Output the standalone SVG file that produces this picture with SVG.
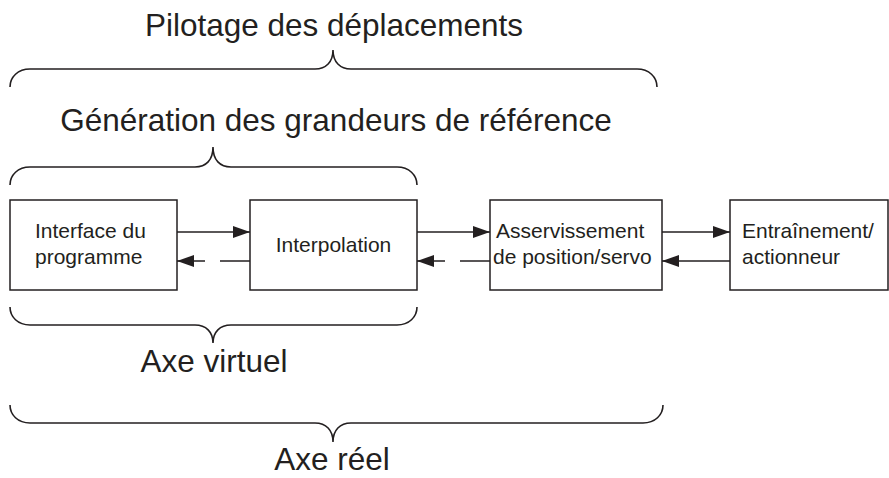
<svg xmlns="http://www.w3.org/2000/svg" width="889" height="478" viewBox="0 0 889 478">
  <style>
    .box { fill: #ffffff; stroke: #231f20; stroke-width: 1.5; }
    .brace { fill: none; stroke: #231f20; stroke-width: 1.6; }
    .line { fill: none; stroke: #231f20; stroke-width: 1.5; }
    .dash { stroke-dasharray: 30 15; }
    .big { font-family: "Liberation Sans", Arial, sans-serif; font-size: 31.5px; fill: #231f20; text-anchor: middle; }
    .lbl { font-family: "Liberation Sans", Arial, sans-serif; font-size: 21px; fill: #231f20; }
  </style>
  <defs>
    <marker id="arrow" viewBox="0 0 17 12" refX="17" refY="6" markerWidth="17" markerHeight="12" markerUnits="userSpaceOnUse" orient="auto">
      <path d="M0,0 L17,6 L0,12 Z" fill="#231f20"/>
    </marker>
  </defs>
  <rect width="889" height="478" fill="#ffffff"/>

  <!-- group labels and braces -->
  <g id="pilotage">
    <text class="big" x="334" y="36">Pilotage des déplacements</text>
    <path class="brace" d="M10,87 C10,77 18,69 30,69 L315,69 C326,69 333,62 333,50 C333,62 340,69 351,69 L637,69 C649,69 657,77 657,87"/>
  </g>
  <g id="generation">
    <text class="big" x="336" y="131">Génération des grandeurs de référence</text>
    <path class="brace" d="M10,185 C10,175 18,167 30,167 L195,167 C206,167 213,160 213,147 C213,160 220,167 231,167 L397,167 C409,167 417,175 417,185"/>
  </g>
  <g id="axe-virtuel">
    <path class="brace" d="M10,307 C10,317 18,325 30,325 L195,325 C206,325 213,332 213,343 C213,332 220,325 231,325 L397,325 C409,325 417,317 417,307"/>
    <text class="big" x="214" y="372">Axe virtuel</text>
  </g>
  <g id="axe-reel">
    <path class="brace" d="M10,405 C10,415 18,423 30,423 L315,423 C326,423 333,430 333,442 C333,430 340,423 351,423 L643,423 C655,423 663,415 663,405"/>
    <text class="big" x="332" y="470">Axe réel</text>
  </g>

  <!-- blocks -->
  <g id="interface">
    <rect class="box" x="10" y="200" width="167" height="90"/>
    <text class="lbl" x="35" y="238">Interface du</text>
    <text class="lbl" x="35" y="264">programme</text>
  </g>
  <g id="interpolation">
    <rect class="box" x="250" y="200" width="167" height="90"/>
    <text class="lbl" x="333.5" y="252" text-anchor="middle">Interpolation</text>
  </g>
  <g id="asservissement">
    <rect class="box" x="490" y="200" width="172" height="90"/>
    <text class="lbl" x="496" y="238">Asservissement</text>
    <text class="lbl" x="493" y="264">de position/servo</text>
  </g>
  <g id="entrainement">
    <rect class="box" x="730" y="200" width="158" height="90"/>
    <text class="lbl" x="742" y="238">Entraînement/</text>
    <text class="lbl" x="742" y="264">actionneur</text>
  </g>

  <!-- connectors -->
  <g id="connectors">
    <line class="line" x1="177" y1="232" x2="250" y2="232" marker-end="url(#arrow)"/>
    <line class="line dash" x1="250" y1="261" x2="177" y2="261" marker-end="url(#arrow)"/>
    <line class="line" x1="417" y1="232" x2="490" y2="232" marker-end="url(#arrow)"/>
    <line class="line dash" x1="490" y1="261" x2="417" y2="261" marker-end="url(#arrow)"/>
    <line class="line" x1="662" y1="232" x2="730" y2="232" marker-end="url(#arrow)"/>
    <line class="line" x1="730" y1="261" x2="662" y2="261" marker-end="url(#arrow)"/>
  </g>
</svg>
